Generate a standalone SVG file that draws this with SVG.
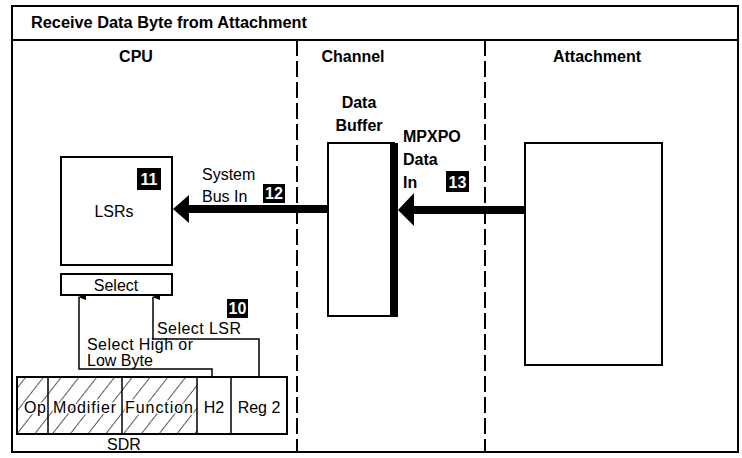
<svg xmlns="http://www.w3.org/2000/svg" width="742" height="458" viewBox="0 0 742 458">
<style>
text{font-family:"Liberation Sans",Arial,sans-serif;fill:#000}
.hd{font-weight:bold;font-size:16px}
.lb{font-size:16px}
.bx{fill:#fff;stroke:#000;stroke-width:2}
.badge rect{fill:#000}
.badge text{fill:#fff;font-weight:bold;font-size:16px;text-anchor:middle}
.thin{fill:none;stroke:#000;stroke-width:1.5}
.bus{stroke:#000;stroke-width:8;fill:none}
.dash{stroke:#000;stroke-width:2;stroke-dasharray:16,5;fill:none}
</style>
<defs>
<pattern id="hatch" width="14" height="14" patternUnits="userSpaceOnUse" patternTransform="rotate(38)">
<line x1="0" y1="0" x2="0" y2="14" stroke="#000" stroke-width="1.3"/>
</pattern>
<marker id="ah" viewBox="0 0 8 10" refX="4" refY="1" markerWidth="8" markerHeight="10" markerUnits="userSpaceOnUse" orient="auto-start-reverse">
<path d="M4,0 L7,8 L1,8 Z" fill="#000"/>
</marker>
</defs>
<rect width="742" height="458" fill="#fff"/>
<g id="frame">
<rect x="12" y="6" width="726" height="446" fill="none" stroke="#000" stroke-width="2"/>
<line x1="12" y1="40" x2="738" y2="40" stroke="#000" stroke-width="2"/>
<text x="31" y="28" class="hd" textLength="276" lengthAdjust="spacingAndGlyphs">Receive Data Byte from Attachment</text>
<line x1="297" y1="40" x2="297" y2="452" class="dash"/>
<line x1="485" y1="40" x2="485" y2="452" class="dash"/>
<text x="136" y="62" class="hd" text-anchor="middle">CPU</text>
<text x="353" y="62" class="hd" text-anchor="middle">Channel</text>
<text x="597" y="62" class="hd" text-anchor="middle">Attachment</text>
</g>
<g id="connectors">
<line x1="189" y1="209" x2="329" y2="209" class="bus"/>
<path d="M173,209 L189,195 L189,223 Z" fill="#000"/>
<line x1="414" y1="210" x2="526" y2="210" class="bus"/>
<path d="M398,210 L414,193 L414,226 Z" fill="#000"/>
<polyline points="212,377 212,369 79,369 79,297" class="thin" marker-end="url(#ah)"/>
<polyline points="259,377 259,339 153,339 153,297" class="thin" marker-end="url(#ah)"/>
<text x="202" y="180" class="lb">System</text>
<text x="202" y="202" class="lb">Bus In</text>
<g class="badge"><rect x="263" y="184" width="22" height="19"/><text x="274" y="199">12</text></g>
<text x="403" y="142" class="hd">MPXPO</text>
<text x="403" y="165" class="hd">Data</text>
<text x="403" y="188" class="hd">In</text>
<g class="badge"><rect x="446" y="171" width="23" height="21"/><text x="457.5" y="187.5">13</text></g>
<text x="157" y="334" class="lb" textLength="84" lengthAdjust="spacing">Select LSR</text>
<text x="87" y="350" class="lb" textLength="106" lengthAdjust="spacing">Select High or</text>
<text x="87" y="366" class="lb">Low Byte</text>
<g class="badge"><rect x="227" y="299" width="21" height="19"/><text x="237.5" y="314">10</text></g>
</g>
<g id="lsrs">
<rect x="61" y="157" width="111" height="108" class="bx"/>
<text x="114" y="217" class="lb" text-anchor="middle">LSRs</text>
<g class="badge"><rect x="137" y="168" width="24" height="22"/><text x="149" y="185">11</text></g>
</g>
<g id="select">
<rect x="61" y="274" width="111" height="21" class="bx"/>
<text x="116" y="291" class="lb" text-anchor="middle">Select</text>
</g>
<g id="databuffer">
<text x="359" y="108" class="hd" text-anchor="middle">Data</text>
<text x="359" y="131" class="hd" text-anchor="middle">Buffer</text>
<rect x="328" y="143" width="66" height="173" class="bx"/>
<rect x="390" y="143" width="8" height="174" fill="#000"/>
</g>
<g id="attachment">
<rect x="525" y="143" width="137" height="222" class="bx"/>
</g>
<g id="sdr">
<rect x="17" y="377" width="180" height="57" fill="url(#hatch)"/>
<rect x="17" y="377" width="270" height="57" fill="none" stroke="#000" stroke-width="2"/>
<line x1="48" y1="377" x2="48" y2="434" stroke="#000" stroke-width="1.5"/>
<line x1="122" y1="377" x2="122" y2="434" stroke="#000" stroke-width="1.5"/>
<line x1="197" y1="377" x2="197" y2="434" stroke="#000" stroke-width="1.5"/>
<line x1="231" y1="377" x2="231" y2="434" stroke="#000" stroke-width="1.5"/>
<g class="lb" style="paint-order:stroke" stroke="#fff" stroke-width="3">
<text x="24" y="413" class="lb" textLength="22" lengthAdjust="spacing">Op</text>
<text x="53" y="413" class="lb" textLength="63" lengthAdjust="spacing">Modifier</text>
<text x="125" y="413" class="lb" textLength="68" lengthAdjust="spacing">Function</text>
</g>
<text x="214" y="413" class="lb" text-anchor="middle">H2</text>
<text x="259" y="413" class="lb" text-anchor="middle">Reg 2</text>
<text x="124" y="450" class="lb" text-anchor="middle">SDR</text>
</g>
</svg>
